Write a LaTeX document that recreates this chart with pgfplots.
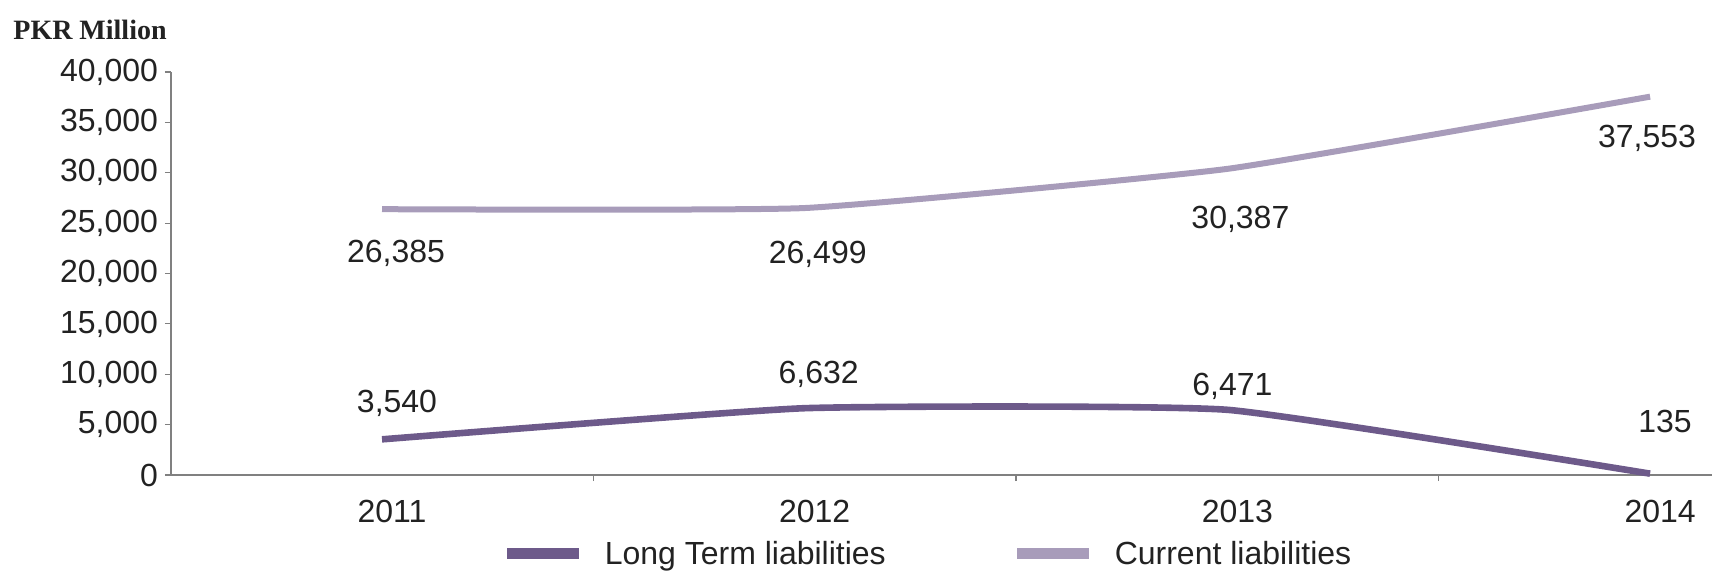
\documentclass[border=0pt]{standalone}
\usepackage{pgfplots}
\pgfplotsset{compat=1.18}
\usepackage{pgfplotstable}
\usepackage{fontspec}
\setmainfont{Liberation Sans}
\newfontfamily\serifb{Liberation Serif}
\definecolor{ltcol}{HTML}{6D5A8A}
\definecolor{curcol}{HTML}{A89CBA}
\definecolor{axgray}{HTML}{808080}
\definecolor{txt}{HTML}{222222}

\pgfplotstableread{
x y dx dy
0 3540 7.5 18
1 6632 7 17
2 6471 2.5 11.5
3 135 7.5 26
}\ltdata
\pgfplotstableread{
x y dx dy
0 26385 7 -22
1 26499 6.5 -23
2 30387 6.5 -25.5
3 37553 -1.5 -21
}\curdata

\begin{document}
\begin{tikzpicture}
\begin{axis}[
  scale only axis, width=770.5pt, height=201.5pt,
  xmin=-0.4992, xmax=3.1465, ymin=0, ymax=40000,
  axis x line=bottom, axis y line=left,
  axis line style={-, draw=axgray, line width=0.9pt},
  xtick={0.5,1.5,2.5}, xticklabels={},
  extra x ticks={0,1,2,3}, extra x tick labels={2011,2012,2013,2014},
  extra x tick style={major tick length=0pt, xticklabel style={xshift=5pt, yshift=-9pt}},
  ytick={0,5000,...,40000},
  scaled y ticks=false,
  tick align=outside, major tick length=3pt,
  tick style={draw=axgray, line width=0.6pt},
  /pgf/number format/.cd, 1000 sep={,}, assume math mode=true, /pgfplots/.cd,
  every tick label/.append style={font=\fontsize{16}{19}\selectfont, text=txt},
  legend style={at={(0.4916,-0.196)}, anchor=center, legend columns=2, draw=none, fill=none,
    font=\fontsize{16}{19}\selectfont, text=txt,
    /tikz/every even column/.append style={column sep=61pt},
    /tikz/every odd column/.append style={column sep=8pt}},
  legend image code/.code={\draw[#1, line width=5.5pt] (0pt,0pt) -- (36pt,0pt);},
  nodes near coords,
  every node near coord/.append style={font=\fontsize{16}{19}\selectfont, text=txt, anchor=center, xshift=\dx pt, yshift=\dy pt},
  visualization depends on={\thisrow{dx} \as \dx},
  visualization depends on={\thisrow{dy} \as \dy},
  clip=false,
]
\addplot[ltcol, line width=3.3pt, smooth, tension=0.25, no markers] table[x=x, y=y] {\ltdata};
\addlegendentry{Long Term liabilities}
\addplot[curcol, line width=3pt, smooth, tension=0.25, no markers] table[x=x, y=y] {\curdata};
\addlegendentry{Current liabilities}
\end{axis}
\node[anchor=base west, font=\serifb\bfseries\fontsize{14}{16}\selectfont, text=txt, inner sep=0pt] at (-79pt,218pt) {PKR Million};
\pgfresetboundingbox
\path[use as bounding box] (-85.5pt,-50pt) rectangle (770.5pt,237.5pt);
\end{tikzpicture}
\end{document}
